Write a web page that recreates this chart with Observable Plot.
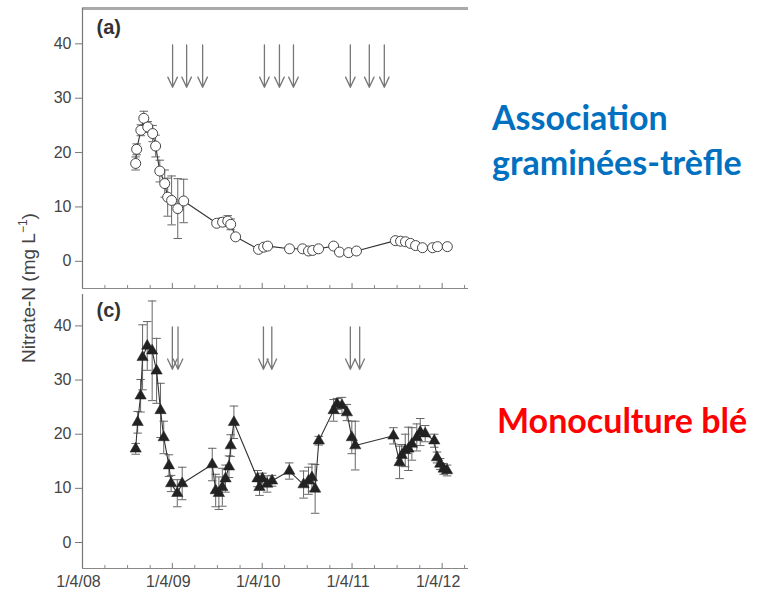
<!DOCTYPE html>
<html>
<head>
<meta charset="utf-8">
<script src="https://cdn.jsdelivr.net/npm/d3@7"></script>
<script src="https://cdn.jsdelivr.net/npm/@observablehq/plot@0.6"></script>
<style>
  html, body { margin: 0; padding: 0; background: #fff; }
  #wrap { position: relative; width: 767px; height: 595px; overflow: hidden; background: #fff; font-family: "Liberation Sans", Arial, sans-serif; }
  #top, #bottom { position: absolute; left: 0; }
  #top { top: 0; }
  #bottom { top: 288px; }
  .ytitle { position: absolute; left: 28px; top: 288px; transform: translate(-50%, -50%) rotate(-90deg); white-space: nowrap; font-size: 19px; color: #444; }
  .ytitle sup { font-size: 12px; }
  .note { position: absolute; font-family: Lato, "Open Sans", sans-serif; font-weight: 700; font-size: 34px; white-space: nowrap; line-height: 1; }
</style>
</head>
<body>
<div id="wrap">
  <div id="top"></div>
  <div id="bottom"></div>
  <div class="ytitle">Nitrate-N (mg L<sup>−1</sup>)</div>
  <div class="note" style="left:492px; top:100px; color:#0070C0;">Association</div>
  <div class="note" style="left:492px; top:145px; color:#0070C0;">graminées-trèfle</div>
  <div class="note" style="left:497px; top:403px; color:#FF0000;">Monoculture blé</div>
</div>
<script>
// ---------- data ----------
const topDates = ["2008-11-03","2008-11-07","2008-11-24","2008-12-06","2008-12-22","2009-01-11","2009-01-23","2009-02-09","2009-03-01","2009-03-13","2009-03-29","2009-04-23","2009-05-17","2009-09-28","2009-10-22","2009-11-12","2009-11-24","2009-12-14","2010-03-17","2010-04-07","2010-04-23","2010-07-21","2010-09-12","2010-10-06","2010-10-23","2010-11-16","2011-01-16","2011-02-09","2011-03-18","2011-04-19","2011-09-24","2011-10-15","2011-11-04","2011-11-24","2011-12-15","2012-01-12","2012-02-22","2012-03-13","2012-04-22"];
const topValues = [18.0,20.6,24.1,26.3,24.7,23.5,21.2,16.6,14.3,11.8,11.2,9.7,11.1,7.0,7.2,7.4,6.8,4.5,2.2,2.6,2.8,2.3,2.3,1.9,2.0,2.3,2.8,1.7,1.6,1.9,3.8,3.7,3.6,3.3,2.9,2.5,2.5,2.7,2.7];
const topErrors = [1.2,1.0,1.0,1.3,1.0,1.5,2.0,2.0,2.5,3.5,4.5,5.5,4.0,0.5,0.8,1.0,1.0,0.5,0.4,0.4,0.4,0.3,0.3,0.3,0.3,0.3,0.4,0.3,0.3,0.3,0.4,0.4,0.4,0.4,0.4,0.3,0.3,0.3,0.3];

const bottomDates = ["2008-11-03","2008-11-11","2008-11-23","2008-12-01","2008-12-20","2009-01-09","2009-01-27","2009-02-12","2009-02-25","2009-03-18","2009-03-27","2009-04-21","2009-05-11","2009-09-10","2009-09-24","2009-10-07","2009-10-21","2009-11-03","2009-11-17","2009-11-24","2009-12-07","2010-03-13","2010-03-21","2010-04-02","2010-04-21","2010-05-11","2010-07-20","2010-09-16","2010-10-06","2010-10-20","2010-11-02","2010-11-17","2011-01-16","2011-01-30","2011-02-19","2011-03-11","2011-03-31","2011-04-14","2011-09-16","2011-10-11","2011-10-20","2011-11-03","2011-11-16","2011-11-30","2011-12-20","2012-01-03","2012-01-23","2012-02-29","2012-03-11","2012-03-24","2012-04-07","2012-04-21"];
const bottomValues = [17.3,22.2,27.1,34.2,36.3,35.4,31.7,24.4,19.4,14.2,10.9,9.1,10.9,14.4,9.6,9.1,10.2,11.8,14.0,17.9,22.2,11.8,10.2,11.8,10.8,11.4,13.2,10.7,11.4,12.0,9.9,18.8,24.4,25.6,25.3,24.0,19.4,17.9,19.7,14.8,16.1,17.0,17.3,18.2,19.4,20.4,20.1,18.8,15.7,14.5,13.6,13.3];
const bottomErrors = [1,2,3,6,4.5,9.2,6,5,3,2,1.5,2.5,3,3,3,3,3.5,2.5,2,2,3,1.5,1.5,1,1.5,1,1.5,2.5,2.5,2.5,4.5,0.8,2,1,1.5,1.5,3,4.5,1.5,3,2,3,4,3,2.5,2.5,1.5,1.2,1,1,1,1];

const topArrowDates = ["2009-04-02","2009-05-29","2009-08-02","2010-04-10","2010-06-10","2010-08-06","2011-03-25","2011-06-10","2011-08-10"];
const bottomArrowDates = ["2009-04-01","2009-04-24","2010-04-06","2010-05-10","2011-03-25","2011-05-02"];
const arrowTop = 39.8;
const arrowBottom = 32.0;

const xStart = "2008-04-01";
const xEnd = "2012-07-17";
const yearTickDates = ["2008-04-01","2009-04-01","2010-04-01","2011-04-01","2012-04-01"];
const yearTickLabels = ["1/4/08","1/4/09","1/4/10","1/4/11","1/4/12"];
const yTicks = [0, 10, 20, 30, 40];
const panelLabels = ["(a)", "(c)"];

// ---------- helpers ----------
const parse = d3.utcParse("%Y-%m-%d");
const X0 = parse(xStart), X1 = parse(xEnd);
const quarterTicks = d3.utcMonth.every(3).range(X0, X1);
const yearTicks = yearTickDates.map(parse);
const yearSet = new Set(yearTicks.map(d => +d));
const minorTicks = quarterTicks.filter(d => !yearSet.has(+d));
const labelByTime = new Map(yearTicks.map((d, i) => [+d, yearTickLabels[i]]));

const capSymbol = {
  draw(context, size) {
    const w = Math.sqrt(size);
    context.moveTo(-w, 0);
    context.lineTo(w, 0);
  }
};

function rows(dates, values, errors) {
  return dates.map((d, i) => ({date: parse(d), v: values[i], e: errors[i]}));
}

function panel({data, arrows, yDomain, height, marginTop, marginBottom, label, labelDy, dotOpts, showXLabels, topBorder}) {
  const frameH = height - marginTop - marginBottom;
  const arrowRows = arrows.map(d => ({date: parse(d), y1: arrowTop, y2: arrowBottom}));
  const marks = [
    Plot.ruleX([X0], {stroke: "#777", strokeWidth: 1.2}),
    Plot.ruleY([yDomain[0]], {stroke: "#888", strokeWidth: 1.2}),
    Plot.ruleX(minorTicks, {stroke: "#888", insetTop: frameH - 3}),
    Plot.ruleX(yearTicks, {stroke: "#777", insetTop: frameH - 5}),
    Plot.axisY({ticks: yTicks, tickSize: 7, tickPadding: 4, fontSize: 16, stroke: "#777", fill: "#444", label: null}),
    Plot.arrow(arrowRows, {x1: "date", x2: "date", y1: "y1", y2: "y2", stroke: "#777", strokeWidth: 1.3, headLength: 13, headAngle: 50}),
    Plot.ruleX(data, {x: "date", y1: d => d.v - d.e, y2: d => d.v + d.e, stroke: "#666", strokeWidth: 1}),
    Plot.dot(data, {x: "date", y: d => d.v + d.e, symbol: capSymbol, r: 2.4, stroke: "#666", fill: "none", strokeWidth: 1}),
    Plot.dot(data, {x: "date", y: d => d.v - d.e, symbol: capSymbol, r: 2.4, stroke: "#666", fill: "none", strokeWidth: 1}),
    Plot.line(data, {x: "date", y: "v", stroke: "#333", strokeWidth: 1.1}),
    Plot.dot(data, {x: "date", y: "v", ...dotOpts}),
    Plot.text([label], {text: d => d, frameAnchor: "top-left", dx: 14, dy: labelDy, textAnchor: "start", lineAnchor: "middle", fontSize: 20, fontWeight: "bold", fill: "#333"})
  ];
  if (topBorder) marks.unshift(Plot.ruleY([yDomain[1]], {stroke: "#aaa", strokeWidth: 3}));
  if (showXLabels) marks.push(Plot.axisX(yearTicks, {tickFormat: d => labelByTime.get(+d), tickSize: 0, tickPadding: 7, fontSize: 16, fill: "#444", dx: -4, label: null}));
  return Plot.plot({
    width: 470,
    height,
    marginLeft: 82,
    marginRight: 2,
    marginTop,
    marginBottom,
    style: {fontFamily: "'Liberation Sans', Arial, sans-serif", fontSize: "16px", color: "#444", background: "transparent", overflow: "visible"},
    x: {type: "utc", domain: [X0, X1], axis: showXLabels ? undefined : null},
    y: {domain: yDomain, axis: null},
    marks
  });
}

document.getElementById("top").appendChild(panel({
  data: rows(topDates, topValues, topErrors),
  arrows: topArrowDates,
  yDomain: [-5, 46.5],
  height: 290,
  marginTop: 8,
  marginBottom: 2,
  label: panelLabels[0],
  labelDy: 19,
  dotOpts: {r: 5, fill: "white", stroke: "#444", strokeWidth: 1},
  showXLabels: false,
  topBorder: true
}));

document.getElementById("bottom").appendChild(panel({
  data: rows(bottomDates, bottomValues, bottomErrors),
  arrows: bottomArrowDates,
  yDomain: [-4.8, 45.8],
  height: 307,
  marginTop: 6,
  marginBottom: 27,
  label: panelLabels[1],
  labelDy: 16,
  dotOpts: {r: 4.2, symbol: "triangle", fill: "#222", stroke: "#222", strokeWidth: 0.5},
  showXLabels: true,
  topBorder: false
}));
</script>
</body>
</html>
